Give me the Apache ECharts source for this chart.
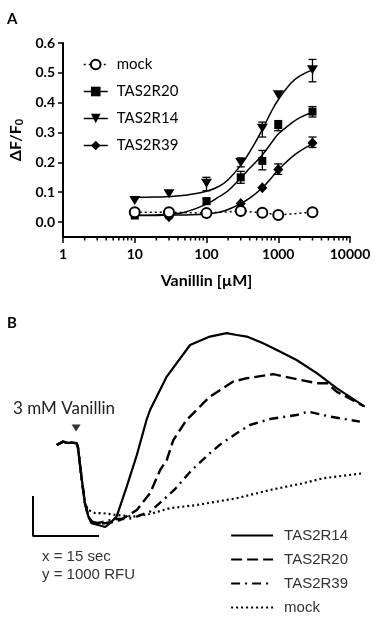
<!DOCTYPE html>
<html>
<head>
<meta charset="utf-8">
<style>
  html, body { margin: 0; padding: 0; background: #fff; }
  #chart { width: 383px; height: 624px; }
</style>
<script src="https://cdn.jsdelivr.net/npm/echarts@6/dist/echarts.min.js"></script>
</head>
<body>
<div id="chart"></div>
<script>
// ---- panel A: dose response (dF/F0 vs vanillin) ----
const concA = [10, 30, 100, 300, 600, 1000, 3000];
const mockA = [0.033, 0.033, 0.030, 0.037, 0.031, 0.024, 0.033];
const r20A = [0.022, 0.025, 0.070, 0.150, 0.205, 0.325, 0.370];
const r14A = [0.072, 0.095, 0.130, 0.200, 0.314, 0.427, 0.510];
const r39A = [0.030, 0.018, 0.028, 0.062, 0.115, 0.176, 0.265];

// error bars [conc, low, high]
const r14Err = [[100, 0.105, 0.15], [300, 0.185, 0.215], [600, 0.285, 0.335], [3000, 0.47, 0.545]];
const r20Err = [[100, 0.06, 0.08], [300, 0.13, 0.17], [600, 0.175, 0.24], [1000, 0.306, 0.34], [3000, 0.352, 0.387]];
const r39Err = [[1000, 0.16, 0.195], [3000, 0.25, 0.285]];

// fitted curves
const fitX = [10, 20, 30, 50, 100, 150, 200, 300, 400, 600, 800, 1000, 1500, 2000, 3000];
const r14Fit = [0.083, 0.084, 0.086, 0.090, 0.103, 0.120, 0.142, 0.190, 0.235, 0.310, 0.370, 0.410, 0.465, 0.490, 0.510];
const r20Fit = [0.023, 0.024, 0.026, 0.033, 0.060, 0.085, 0.105, 0.148, 0.180, 0.225, 0.265, 0.295, 0.330, 0.350, 0.368];
const r39Fit = [0.022, 0.022, 0.023, 0.024, 0.027, 0.033, 0.042, 0.062, 0.080, 0.115, 0.148, 0.175, 0.215, 0.238, 0.262];

const yTicksA = [0, 0.1, 0.2, 0.3, 0.4, 0.5, 0.6];
const yMinA = -0.05;
const minorTicksA = [2, 3, 4, 5, 6, 7, 8, 9, 20, 30, 40, 50, 60, 70, 80, 90,
  200, 300, 400, 500, 600, 700, 800, 900, 2000, 3000, 4000, 5000, 6000, 7000, 8000, 9000];

// ---- panel B: calcium traces [sec, RFU] ----
const preB = [[5.4, 2275], [6.8, 2360], [7.7, 2330], [8.8, 2335], [9.9, 2320], [10.2, 2230], [11.1, 1400], [11.8, 825]];
const trace14B = [[12.6, 480], [13.3, 320], [14.8, 275], [16.4, 225], [17.5, 320], [19.0, 485], [21.3, 1235],
  [23.6, 2025], [25.8, 2900], [26.6, 3150], [30.4, 3985], [35.7, 4775], [40.2, 4985], [44.0, 5070], [46.3, 5025],
  [48.6, 4985], [52.3, 4820], [56.1, 4610], [59.9, 4400], [64.5, 4070], [69.0, 3695], [75.4, 3235]];
const trace20B = [[12.6, 480], [13.3, 375], [14.8, 300], [16.6, 325], [18.2, 350], [19.8, 400], [21.4, 500],
  [23.6, 650], [26.6, 1070], [28.9, 1650], [30.4, 1900], [31.9, 2400], [34.9, 2900], [40.2, 3485], [45.5, 3860],
  [48.6, 3945], [54.6, 4045], [59.9, 3920], [64.5, 3820], [66.8, 3820], [69.0, 3610], [75.1, 3250]];
const trace39B = [[12.6, 480], [13.3, 350], [14.8, 325], [16.6, 375], [18.9, 425], [20.9, 425], [22.8, 450],
  [26.6, 610], [29.6, 900], [32.3, 1175], [36.1, 1650], [40.2, 2070], [42.9, 2320], [46.3, 2570], [49.3, 2775],
  [53.9, 2925], [59.9, 3025], [62.6, 3110], [67.5, 2985], [74.3, 2860]];
const mockB = [[12.6, 650], [14.1, 575], [16.0, 570], [19.0, 525], [22.8, 485], [26.6, 550], [31.1, 695],
  [37.2, 775], [46.3, 945], [53.9, 1150], [61.4, 1320], [66.0, 1445], [75.1, 1570]];
const scaleBarB = [[0, 1000], [0, 0], [15, 0]];
const stimulusB = [[9.8, 2700]];

const BLACK = '#000';
const fontA = 'Lato';
const fontB = '"Liberation Sans", Arial, sans-serif';

function pairs(xs, ys) {
  return xs.map((x, i) => [x, ys[i]]);
}

function errorBarItem(params, api) {
  const x = api.value(0);
  const lo = api.coord([x, api.value(1)]);
  const hi = api.coord([x, api.value(2)]);
  const w = 4;
  const st = { stroke: BLACK, lineWidth: 1.3 };
  return {
    type: 'group',
    children: [
      { type: 'line', shape: { x1: lo[0], y1: lo[1], x2: hi[0], y2: hi[1] }, style: st },
      { type: 'line', shape: { x1: lo[0] - w, y1: lo[1], x2: lo[0] + w, y2: lo[1] }, style: st },
      { type: 'line', shape: { x1: hi[0] - w, y1: hi[1], x2: hi[0] + w, y2: hi[1] }, style: st }
    ]
  };
}

function errSeries(data) {
  return {
    type: 'custom', xAxisIndex: 0, yAxisIndex: 0, silent: true, z: 3,
    renderItem: errorBarItem, encode: { x: 0, y: [1, 2] }, data: data
  };
}

function fitSeries(name, ys) {
  return {
    name: name, type: 'line', xAxisIndex: 0, yAxisIndex: 0, silent: true, z: 2,
    smooth: 0.4, symbol: 'none',
    lineStyle: { color: BLACK, width: 1.5 },
    data: pairs(fitX, ys)
  };
}

function pointSeries(name, ys, symbol, size, rotate) {
  return {
    name: name, type: 'line', xAxisIndex: 0, yAxisIndex: 0, z: 4,
    symbol: symbol, symbolSize: size, symbolRotate: rotate || 0, showAllSymbol: true,
    itemStyle: { color: BLACK },
    lineStyle: { color: BLACK, width: 1.5, opacity: 0 },
    data: pairs(concA, ys)
  };
}

function traceSeries(name, data, type, width) {
  return {
    name: name, type: 'line', xAxisIndex: 1, yAxisIndex: 1, symbol: 'none',
    lineStyle: { color: BLACK, width: width, type: type },
    itemStyle: { color: BLACK },
    data: preB.concat(data)
  };
}

const chart = echarts.init(document.getElementById('chart'));

chart.setOption({
  backgroundColor: '#fff',
  animation: false,
  grid: [
    { left: 63, top: 43, width: 287, height: 194 },
    { left: 28.6, top: 316, width: 338.8, height: 224 }
  ],
  xAxis: [
    {
      gridIndex: 0, type: 'log', logBase: 10, min: 1, max: 10000,
      name: 'Vanillin [\u00b5M]', nameLocation: 'middle', nameGap: 36,
      nameTextStyle: { fontFamily: fontA, fontWeight: 'bold', fontSize: 16, color: BLACK },
      axisLine: { onZero: false, lineStyle: { color: BLACK, width: 2 } },
      axisTick: { length: 6, lineStyle: { color: BLACK, width: 1.5 } },
      axisLabel: {
        fontFamily: fontA, fontWeight: 'bold', fontSize: 14, color: BLACK, margin: 10,
        formatter: v => String(Math.round(v))
      },
      splitLine: { show: false },
      minorTick: { show: false }
    },
    {
      gridIndex: 1, type: 'value', min: -1, max: 76, show: false
    }
  ],
  yAxis: [
    {
      gridIndex: 0, type: 'value', min: yMinA, max: 0.6,
      name: '\u0394F/F{sub|0}', nameLocation: 'middle', nameGap: 37, nameRotate: 90,
      nameTextStyle: {
        fontFamily: fontA, fontWeight: 'bold', fontSize: 16, color: BLACK,
        rich: { sub: { fontFamily: fontA, fontWeight: 'bold', fontSize: 11, color: BLACK, verticalAlign: 'bottom', padding: [6, 0, 0, 0] } }
      },
      axisLine: { show: true, onZero: false, lineStyle: { color: BLACK, width: 2 } },
      axisTick: { show: true, length: 5, customValues: yTicksA, lineStyle: { color: BLACK, width: 1.5 } },
      axisLabel: {
        customValues: yTicksA, fontFamily: fontA, fontWeight: 'bold', fontSize: 14, color: BLACK, margin: 8,
        formatter: v => v.toFixed(1)
      },
      splitLine: { show: false }
    },
    {
      gridIndex: 1, type: 'value', min: -100, max: 5500, show: false
    }
  ],
  legend: [
    {
      orient: 'vertical', left: 78, top: 52, itemWidth: 24, itemHeight: 12, itemGap: 12,
      data: ['A:mock', 'A:TAS2R20', 'A:TAS2R14', 'A:TAS2R39'],
      formatter: n => n.slice(2),
      selectedMode: false,
      textStyle: { fontFamily: fontA, fontSize: 15, color: BLACK, padding: [0, 0, 0, 4] },
      lineStyle: { opacity: 1, width: 1.5, color: BLACK }
    },
    {
      orient: 'vertical', left: 225, top: 523, itemWidth: 42, itemHeight: 14, itemGap: 9,
      data: ['B:TAS2R14', 'B:TAS2R20', 'B:TAS2R39', 'B:mock'],
      formatter: n => n.slice(2),
      selectedMode: false,
      itemStyle: { opacity: 0 },
      textStyle: { fontFamily: fontB, fontSize: 15, color: '#333', padding: [0, 0, 0, 6] },
      lineStyle: { width: 2.2, color: BLACK }
    }
  ],
  graphic: [
    { type: 'text', left: 7, top: 12, style: { text: 'A', font: 'bold 15px Lato', fill: BLACK } },
    { type: 'text', left: 7, top: 316, style: { text: 'B', font: 'bold 15px Lato', fill: BLACK } },
    { type: 'text', left: 13, top: 400, style: { text: '3 mM Vanillin', font: '17px Lato', fill: '#222' } },
    { type: 'text', left: 42, top: 549, style: { text: 'x = 15 sec', font: '15px "Liberation Sans"', fill: '#333' } },
    { type: 'text', left: 42, top: 567, style: { text: 'y = 1000 RFU', font: '15px "Liberation Sans"', fill: '#333' } }
  ],
  series: [
    // minor ticks of the log axis
    {
      type: 'custom', xAxisIndex: 0, yAxisIndex: 0, silent: true, clip: false,
      encode: { x: 0, y: 1 },
      data: minorTicksA.map(v => [v, yMinA]),
      renderItem: (params, api) => {
        const p = api.coord([api.value(0), api.value(1)]);
        return { type: 'line', shape: { x1: p[0], y1: p[1], x2: p[0], y2: p[1] + 3.5 }, style: { stroke: BLACK, lineWidth: 1.5 } };
      }
    },
    fitSeries('fit14', r14Fit),
    fitSeries('fit20', r20Fit),
    fitSeries('fit39', r39Fit),
    errSeries(r14Err),
    errSeries(r20Err),
    errSeries(r39Err),
    {
      name: 'A:mock', type: 'line', xAxisIndex: 0, yAxisIndex: 0, z: 5,
      symbol: 'emptyCircle', symbolSize: 10,
      itemStyle: { color: BLACK, borderWidth: 1.8 },
      lineStyle: { color: BLACK, width: 1.5, type: [2, 3] },
      data: pairs(concA, mockA)
    },
    pointSeries('A:TAS2R20', r20A, 'rect', 8),
    pointSeries('A:TAS2R14', r14A, 'triangle', [11, 9], 180),
    pointSeries('A:TAS2R39', r39A, 'diamond', [10, 11]),

    // panel B
    traceSeries('B:mock', mockB, [2, 3], 2.2),
    traceSeries('B:TAS2R39', trace39B, [9, 5, 2, 5], 2.4),
    traceSeries('B:TAS2R20', trace20B, [11, 5], 2.4),
    traceSeries('B:TAS2R14', trace14B, 'solid', 2.2),
    {
      name: 'scalebar', type: 'line', xAxisIndex: 1, yAxisIndex: 1, symbol: 'none',
      lineStyle: { color: BLACK, width: 2 }, data: scaleBarB
    },
    {
      name: 'stimulus', type: 'scatter', xAxisIndex: 1, yAxisIndex: 1,
      symbol: 'triangle', symbolRotate: 180, symbolSize: [9, 7],
      itemStyle: { color: BLACK }, data: stimulusB
    }
  ]
});
</script>
</body>
</html>
